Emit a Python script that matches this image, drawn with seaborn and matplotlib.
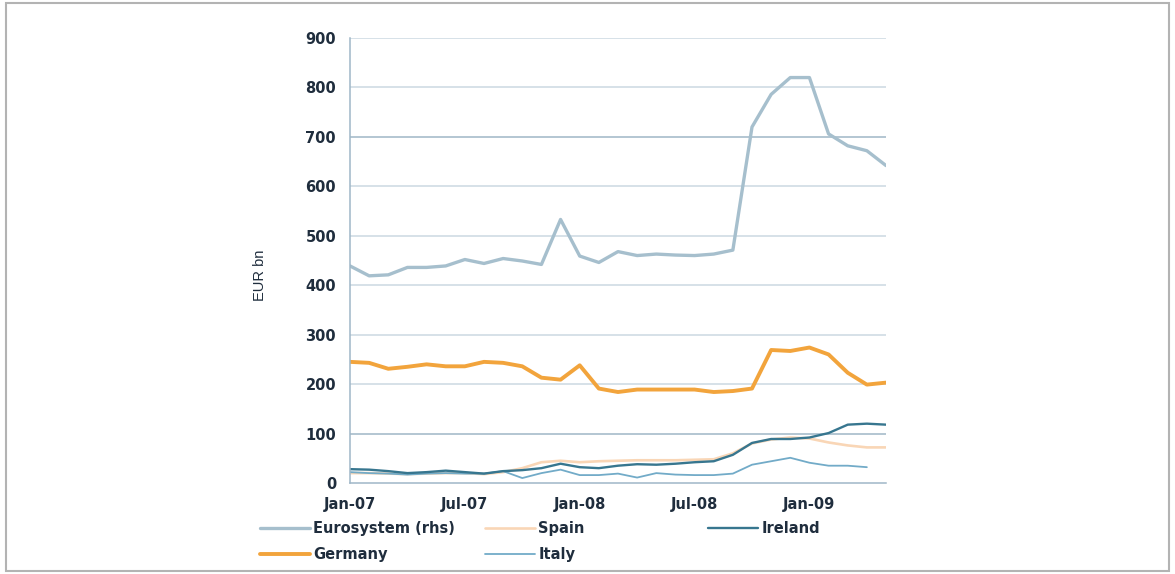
import matplotlib
matplotlib.use('Agg')
import matplotlib.pyplot as plt
import seaborn as sns
import pandas as pd
import numpy as np
from matplotlib.patches import Rectangle

# ---- data -------------------------------------------------------------
months = ['Jan-07', 'Feb-07', 'Mar-07', 'Apr-07', 'May-07', 'Jun-07', 'Jul-07',
          'Aug-07', 'Sep-07', 'Oct-07', 'Nov-07', 'Dec-07', 'Jan-08', 'Feb-08',
          'Mar-08', 'Apr-08', 'May-08', 'Jun-08', 'Jul-08', 'Aug-08', 'Sep-08',
          'Oct-08', 'Nov-08', 'Dec-08', 'Jan-09', 'Feb-09', 'Mar-09', 'Apr-09',
          'May-09']
tick_labels = ['Jan-07', 'Jul-07', 'Jan-08', 'Jul-08', 'Jan-09']

eurosystem = [439, 419, 421, 436, 436, 439, 452, 444, 454, 449, 442, 533, 459, 446,
              468, 460, 463, 461, 460, 463, 471, 720, 786, 820, 820, 706, 682, 672, 642]
germany = [245, 243, 231, 235, 240, 236, 236, 245, 243, 236, 213, 209, 238, 191,
           184, 189, 189, 189, 189, 184, 186, 191, 269, 267, 274, 260, 223, 199, 203]
spain = [20, 20, 19, 18, 19, 20, 20, 18, 22, 30, 42, 45, 42, 44,
         45, 46, 46, 46, 47, 48, 60, 80, 88, 92, 90, 82, 76, 72, 72]
ireland = [28, 27, 24, 20, 22, 25, 22, 19, 24, 26, 30, 39, 32, 30,
           35, 38, 37, 39, 42, 44, 57, 81, 89, 89, 92, 101, 118, 120, 118]
italy = [22, 20, 19, 17, 19, 20, 19, 19, 24, 10, 20, 27, 16, 16,
         19, 11, 20, 17, 16, 16, 19, 37, 44, 51, 41, 35, 35, 32, np.nan]

series = {
    'Eurosystem (rhs)': eurosystem,
    'Spain': spain,
    'Germany': germany,
    'Italy': italy,
    'Ireland': ireland,
}
styles = {
    'Eurosystem (rhs)': dict(color='#a6bfcd', lw=2.4),
    'Spain': dict(color='#f9d6b6', lw=1.9),
    'Germany': dict(color='#f2a43c', lw=2.8),
    'Italy': dict(color='#72abc8', lw=1.3),
    'Ireland': dict(color='#37768f', lw=1.7),
}

rows = []
for name, vals in series.items():
    for i, v in enumerate(vals):
        rows.append({'idx': i, 'month': months[i], 'value': v, 'series': name})
df = pd.DataFrame(rows)

# ---- figure -----------------------------------------------------------
sns.set_theme(style='white')
plt.rcParams['font.family'] = ['DejaVu Sans']
text_col = '#1f2d3d'
axis_col = '#9fb7c7'

W, H = 1175, 574
fig = plt.figure(figsize=(W / 100, H / 100), dpi=100)
fig.patch.set_facecolor('white')
x0, x1, y0, y1 = 350, 886, 38, 483
ax = fig.add_axes([x0 / W, 1 - y1 / H, (x1 - x0) / W, (y1 - y0) / H])
ax.set_facecolor('white')

handles = {}
for name in series:
    sub = df[df['series'] == name]
    n_before = len(ax.lines)
    sns.lineplot(data=sub, x='idx', y='value', ax=ax, color=styles[name]['color'],
                 linewidth=styles[name]['lw'], estimator=None, errorbar=None,
                 legend=False)
    handles[name] = ax.lines[n_before]
if ax.get_legend() is not None:
    ax.get_legend().remove()

ax.set_xlim(0, len(months) - 1)
ax.set_ylim(0, 900)
ax.set_yticks(range(0, 901, 100))
ax.set_yticklabels([str(v) for v in range(0, 901, 100)], fontsize=10.5,
                   fontweight='bold', color=text_col)
major_pos = [months.index(t) for t in tick_labels]
ax.set_xticks(major_pos)
ax.set_xticklabels(tick_labels, fontsize=10.5, fontweight='bold', color=text_col)
ax.set_xticks(range(len(months)), minor=True)
ax.tick_params(axis='both', which='both', direction='out', length=4,
               color=axis_col, width=1)
ax.tick_params(axis='y', pad=6)
ax.tick_params(axis='x', pad=6)

ax.set_xlabel('')
ax.set_ylabel('EUR bn', fontsize=10.5, color=text_col, family='Liberation Sans')
ax.yaxis.set_label_coords((267 - x0) / (x1 - x0), (y1 - 275) / (y1 - y0))

for v in range(100, 901, 100):
    c = '#9fb6c6' if v in (100, 700) else '#cbd8e1'
    ax.axhline(v, color=c, lw=1.1, zorder=0)

for s in ['top', 'right']:
    ax.spines[s].set_visible(False)
for s in ['left', 'bottom']:
    ax.spines[s].set_color(axis_col)
    ax.spines[s].set_linewidth(1.1)

# ---- legends (three columns) -------------------------------------------
leg_kw = dict(loc='upper left', frameon=False, handlelength=3.4,
              handletextpad=0.25, labelspacing=0.75, borderpad=0, borderaxespad=0,
              bbox_transform=fig.transFigure, prop={'weight': 'bold', 'size': 10.5})
leg_top = 1 - 521 / H
cols = [(260, ['Eurosystem (rhs)', 'Germany']),
        (485, ['Spain', 'Italy']),
        (708, ['Ireland'])]
for xp, names in cols:
    lg = fig.legend(handles=[handles[n] for n in names], labels=names,
                    bbox_to_anchor=(xp / W, leg_top), **leg_kw)
    for t in lg.get_texts():
        t.set_color(text_col)

# ---- outer frame --------------------------------------------------------
fig.patches.append(Rectangle((6 / W, 3 / H), (1169 - 6) / W, (571 - 3) / H,
                             transform=fig.transFigure, fill=False,
                             edgecolor='#b3b3b3', lw=1.5))

fig.savefig('out.png', dpi=100, facecolor='white')
